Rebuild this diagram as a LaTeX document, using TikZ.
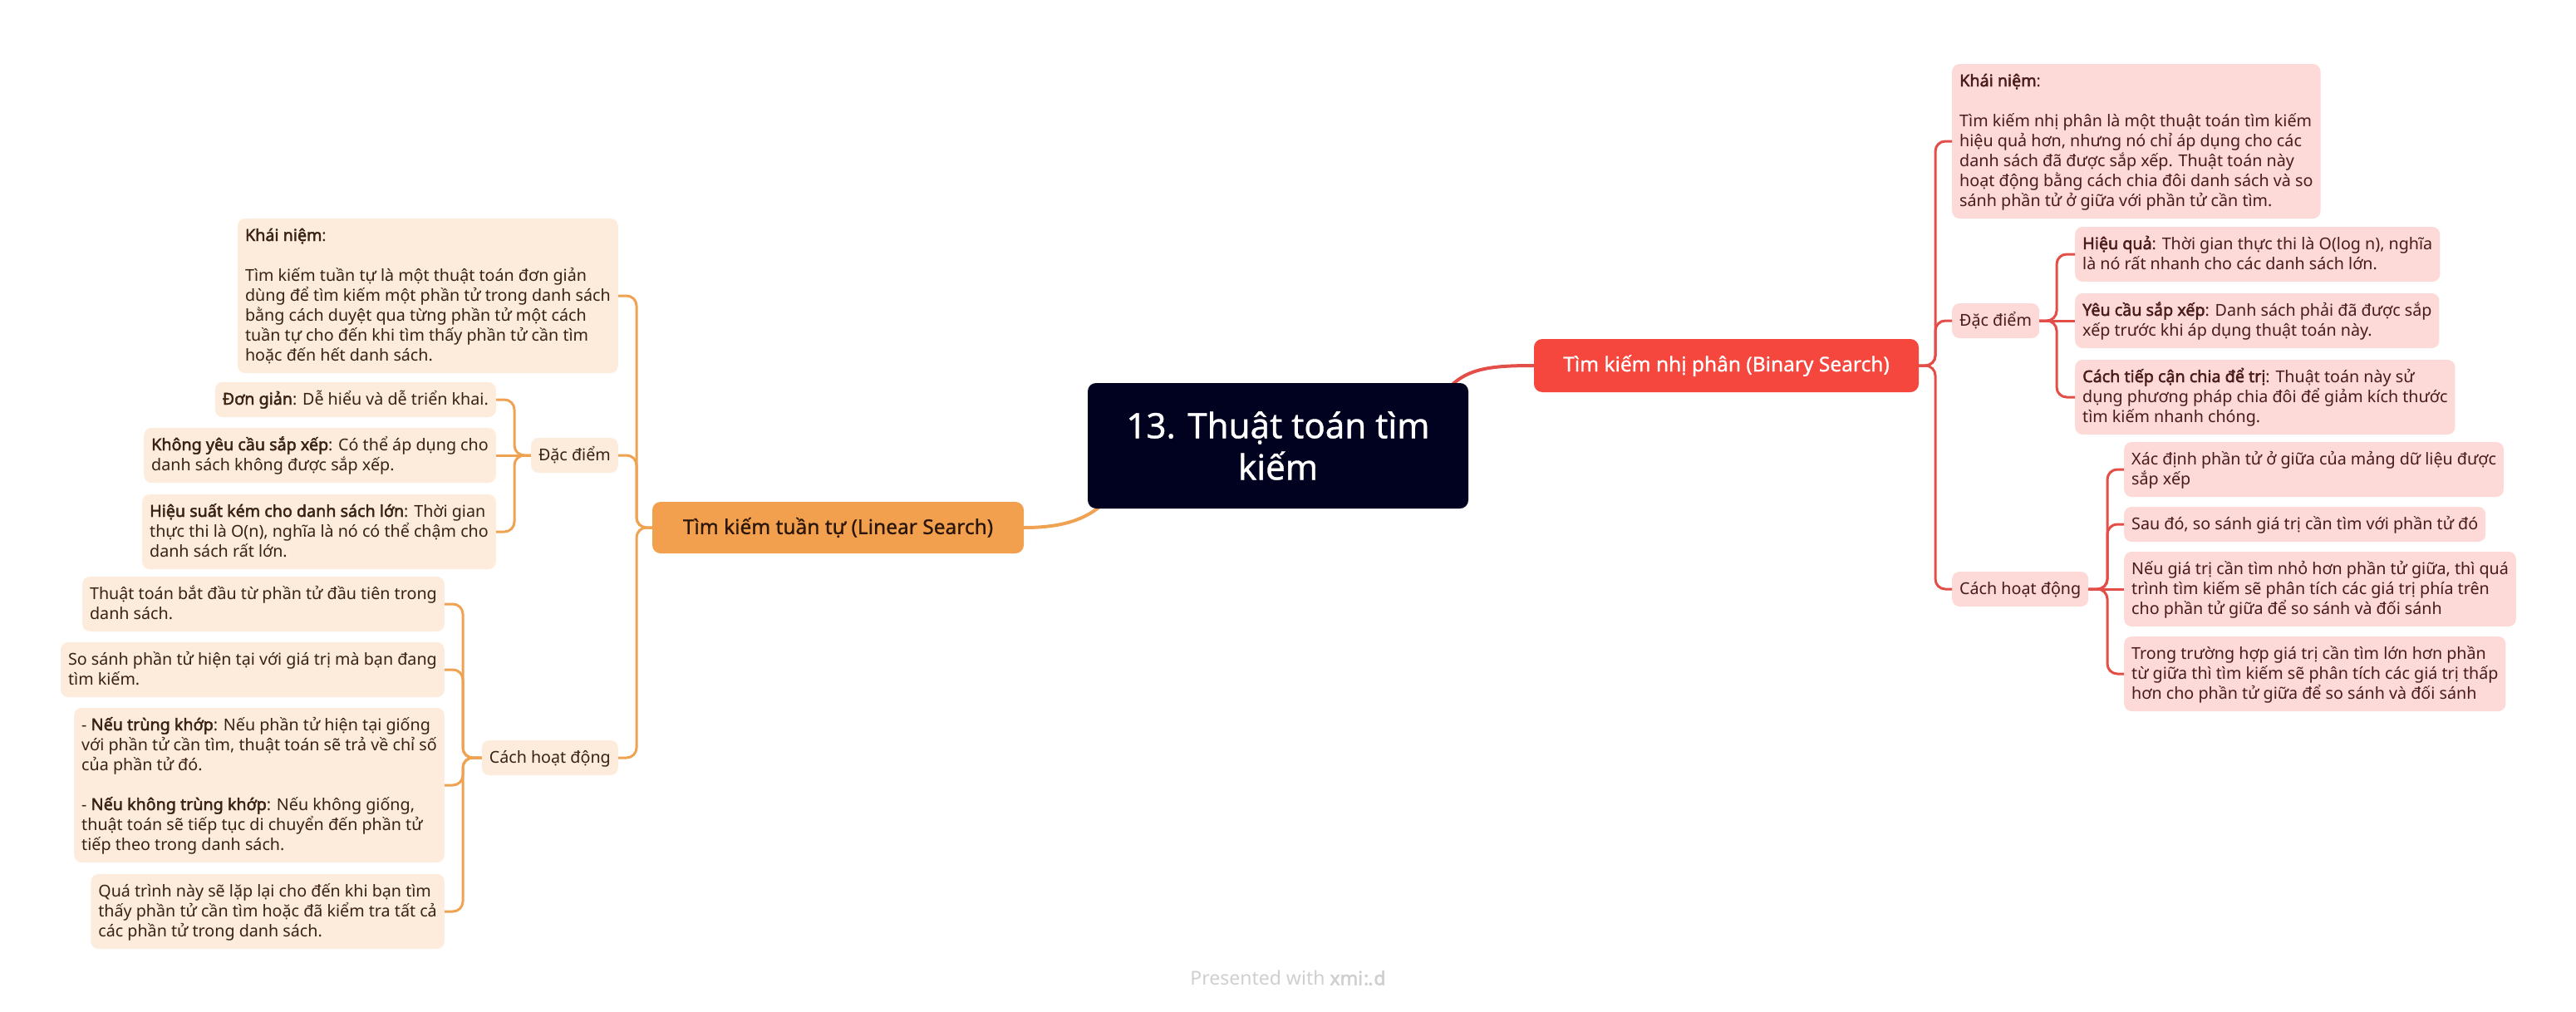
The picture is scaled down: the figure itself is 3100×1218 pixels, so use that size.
\documentclass[tikz,border=0pt]{standalone}
\usepackage{fontspec}
\setmainfont{Noto Sans}[AutoFakeBold=2.2]
\newfontfamily\medfont{Noto Sans}[FakeBold=0.9]
\definecolor{rootfill}{HTML}{01021F}
\definecolor{omain}{HTML}{F3A04E}
\definecolor{rmain}{HTML}{F5473D}
\definecolor{olight}{HTML}{FDEBDC}
\definecolor{rlight}{HTML}{FDD9D7}
\definecolor{ocol}{HTML}{EFA251}
\definecolor{rcol}{HTML}{E44E48}
\definecolor{otext}{HTML}{3A2212}
\definecolor{rtext}{HTML}{4A1B1B}
\definecolor{maintext}{HTML}{2A160A}
\definecolor{footgray}{HTML}{CFCFCF}
\newcommand\myfs{\fontsize{19.7}{24}\selectfont}
\newcommand\ls{\rule[-6pt]{0pt}{24pt}}
\tikzset{
  rootbox/.style={fill=rootfill, text=white, rounded corners=10pt, minimum width=458pt, minimum height=151pt, align=center, font=\medfont\fontsize{42}{50}\selectfont, inner sep=0pt},
  omainbox/.style={fill=omain, text=maintext, rounded corners=10pt, minimum width=447pt, minimum height=62pt, font=\medfont\fontsize{24.5}{30}\selectfont, inner sep=0pt},
  rmainbox/.style={fill=rmain, text=white, rounded corners=10pt, minimum width=463pt, minimum height=64pt, font=\medfont\fontsize{24.5}{30}\selectfont, inner sep=0pt},
  obox/.style={fill=olight, text=otext, rounded corners=9pt, inner xsep=9pt, inner ysep=9pt, align=left, font=\myfs},
  rbox/.style={fill=rlight, text=rtext, rounded corners=9pt, inner xsep=9pt, inner ysep=9pt, align=left, font=\myfs},
  oline/.style={draw=ocol, line width=3pt, rounded corners=12pt},
  rline/.style={draw=rcol, line width=3pt, rounded corners=12pt},
  omainline/.style={draw=ocol, line width=4pt},
  rmainline/.style={draw=rcol, line width=4pt},
}
\begin{document}
\begin{tikzpicture}[x=1pt,y=-1pt]
\path[use as bounding box, fill=white] (0,0) rectangle (3100,1218);

% main branch boxes
\node[omainbox] (lin) at (1008.5,635) {Tìm kiếm tuần tự (Linear Search)};
\node[rmainbox] (bin) at (2077.5,440) {Tìm kiếm nhị phân (Binary Search)};

% connectors from root (drawn before root so root covers their start)
\coordinate (rootR) at (1725,495);
\coordinate (rootL) at (1345,585);
\draw[rmainline] (rootR) .. controls (1750,445) and (1780,440) .. (bin.west);
\draw[omainline] (lin.east) .. controls (1280,635) and (1320,625) .. (rootL);

\node[rootbox] (root) at (1538,536.5) {13. Thuật toán tìm\\kiếm};

% ---------------- right side ----------------
\coordinate (rv) at (2329,0);
\coordinate (rdv) at (2475,0);
\coordinate (rcv) at (2536,0);

\node[rbox, anchor=west] (rk) at (2349,170) {\ls\textbf{Khái niệm}:\\ \mbox{}\\
Tìm kiếm nhị phân là một thuật toán tìm kiếm\\
hiệu quả hơn, nhưng nó chỉ áp dụng cho các\\
danh sách đã được sắp xếp. Thuật toán này\\
hoạt động bằng cách chia đôi danh sách và so\\
sánh phần tử ở giữa với phần tử cần tìm.\ls};
\node[rbox, anchor=west] (rd) at (2349,386) {\ls Đặc điểm\ls};
\node[rbox, anchor=west] (rc) at (2349,709) {\ls Cách hoạt động\ls};

\node[rbox, anchor=west] (rd1) at (2497,306) {\ls\textbf{Hiệu quả}: Thời gian thực thi là O(log n), nghĩa\\
là nó rất nhanh cho các danh sách lớn.\ls};
\node[rbox, anchor=west] (rd2) at (2497,386) {\ls\textbf{Yêu cầu sắp xếp}: Danh sách phải đã được sắp\\
xếp trước khi áp dụng thuật toán này.\ls};
\node[rbox, anchor=west] (rd3) at (2497,478) {\ls\textbf{Cách tiếp cận chia để trị}: Thuật toán này sử\\
dụng phương pháp chia đôi để giảm kích thước\\
tìm kiếm nhanh chóng.\ls};

\node[rbox, anchor=west] (rc1) at (2556,565) {\ls Xác định phần tử ở giữa của mảng dữ liệu được\\
sắp xếp\ls};
\node[rbox, anchor=west] (rc2) at (2556,631) {\ls Sau đó, so sánh giá trị cần tìm với phần tử đó\ls};
\node[rbox, anchor=west] (rc3) at (2556,709) {\ls Nếu giá trị cần tìm nhỏ hơn phần tử giữa, thì quá\\
trình tìm kiếm sẽ phân tích các giá trị phía trên\\
cho phần tử giữa để so sánh và đối sánh\ls};
\node[rbox, anchor=west] (rc4) at (2556,811) {\ls Trong trường hợp giá trị cần tìm lớn hơn phần\\
từ giữa thì tìm kiếm sẽ phân tích các giá trị thấp\\
hơn cho phần tử giữa để so sánh và đối sánh\ls};

\draw[rline] (bin.east) -- (bin.east -| rv) -- (rv |- rk.west) -- (rk.west);
\draw[rline] (bin.east) -- (bin.east -| rv) -- (rv |- rd.west) -- (rd.west);
\draw[rline] (bin.east) -- (bin.east -| rv) -- (rv |- rc.west) -- (rc.west);

\draw[rline] (rd.east) -- (rd.east -| rdv) -- (rdv |- rd1.west) -- (rd1.west);
\draw[rline] (rd.east) -- (rd2.west);
\draw[rline] (rd.east) -- (rd.east -| rdv) -- (rdv |- rd3.west) -- (rd3.west);

\draw[rline] (rc.east) -- (rc.east -| rcv) -- (rcv |- rc1.west) -- (rc1.west);
\draw[rline] (rc.east) -- (rc.east -| rcv) -- (rcv |- rc2.west) -- (rc2.west);
\draw[rline] (rc.east) -- (rc3.west);
\draw[rline] (rc.east) -- (rc.east -| rcv) -- (rcv |- rc4.west) -- (rc4.west);

% ---------------- left side ----------------
\coordinate (lv) at (766,0);
\coordinate (ldv) at (619,0);
\coordinate (lcv) at (557,0);

\node[obox, anchor=east] (lk) at (744,356) {\ls\textbf{Khái niệm}:\\ \mbox{}\\
Tìm kiếm tuần tự là một thuật toán đơn giản\\
dùng để tìm kiếm một phần tử trong danh sách\\
bằng cách duyệt qua từng phần tử một cách\\
tuần tự cho đến khi tìm thấy phần tử cần tìm\\
hoặc đến hết danh sách.\ls};
\node[obox, anchor=east] (ld) at (744,548) {\ls Đặc điểm\ls};
\node[obox, anchor=east] (lc) at (744,912) {\ls Cách hoạt động\ls};

\node[obox, anchor=east] (ld1) at (597,481) {\ls\textbf{Đơn giản}: Dễ hiểu và dễ triển khai.\ls};
\node[obox, anchor=east] (ld2) at (597,548) {\ls\textbf{Không yêu cầu sắp xếp}: Có thể áp dụng cho\\
danh sách không được sắp xếp.\ls};
\node[obox, anchor=east] (ld3) at (597,640) {\ls\textbf{Hiệu suất kém cho danh sách lớn}: Thời gian\\
thực thi là O(n), nghĩa là nó có thể chậm cho\\
danh sách rất lớn.\ls};

\node[obox, anchor=east] (lc1) at (535,727) {\ls Thuật toán bắt đầu từ phần tử đầu tiên trong\\
danh sách.\ls};
\node[obox, anchor=east] (lc2) at (535,806) {\ls So sánh phần tử hiện tại với giá trị mà bạn đang\\
tìm kiếm.\ls};
\node[obox, anchor=east] (lc3) at (535,945) {\ls - \textbf{Nếu trùng khớp}: Nếu phần tử hiện tại giống\\
với phần tử cần tìm, thuật toán sẽ trả về chỉ số\\
của phần tử đó.\\ \mbox{}\\
- \textbf{Nếu không trùng khớp}: Nếu không giống,\\
thuật toán sẽ tiếp tục di chuyển đến phần tử\\
tiếp theo trong danh sách.\ls};
\node[obox, anchor=east] (lc4) at (535,1097) {\ls Quá trình này sẽ lặp lại cho đến khi bạn tìm\\
thấy phần tử cần tìm hoặc đã kiểm tra tất cả\\
các phần tử trong danh sách.\ls};

\draw[oline] (lin.west) -- (lin.west -| lv) -- (lv |- lk.east) -- (lk.east);
\draw[oline] (lin.west) -- (lin.west -| lv) -- (lv |- ld.east) -- (ld.east);
\draw[oline] (lin.west) -- (lin.west -| lv) -- (lv |- lc.east) -- (lc.east);

\draw[oline] (ld.west) -- (ld.west -| ldv) -- (ldv |- ld1.east) -- (ld1.east);
\draw[oline] (ld.west) -- (ld2.east);
\draw[oline] (ld.west) -- (ld.west -| ldv) -- (ldv |- ld3.east) -- (ld3.east);

\draw[oline] (lc.west) -- (lc.west -| lcv) -- (lcv |- lc1.east) -- (lc1.east);
\draw[oline] (lc.west) -- (lc.west -| lcv) -- (lcv |- lc2.east) -- (lc2.east);
\draw[oline] (lc.west) -- (lc.west -| lcv) -- (lcv |- lc3.east) -- (lc3.east);
\draw[oline] (lc.west) -- (lc.west -| lcv) -- (lcv |- lc4.east) -- (lc4.east);

% footer
\node[text=footgray, font=\fontsize{23}{28}\selectfont, inner sep=0pt] (foot) at (1550,1177) {Presented with \textbf{xmi\kern1pt:\kern-1pt.\kern1pt d}};
\end{tikzpicture}
\end{document}
